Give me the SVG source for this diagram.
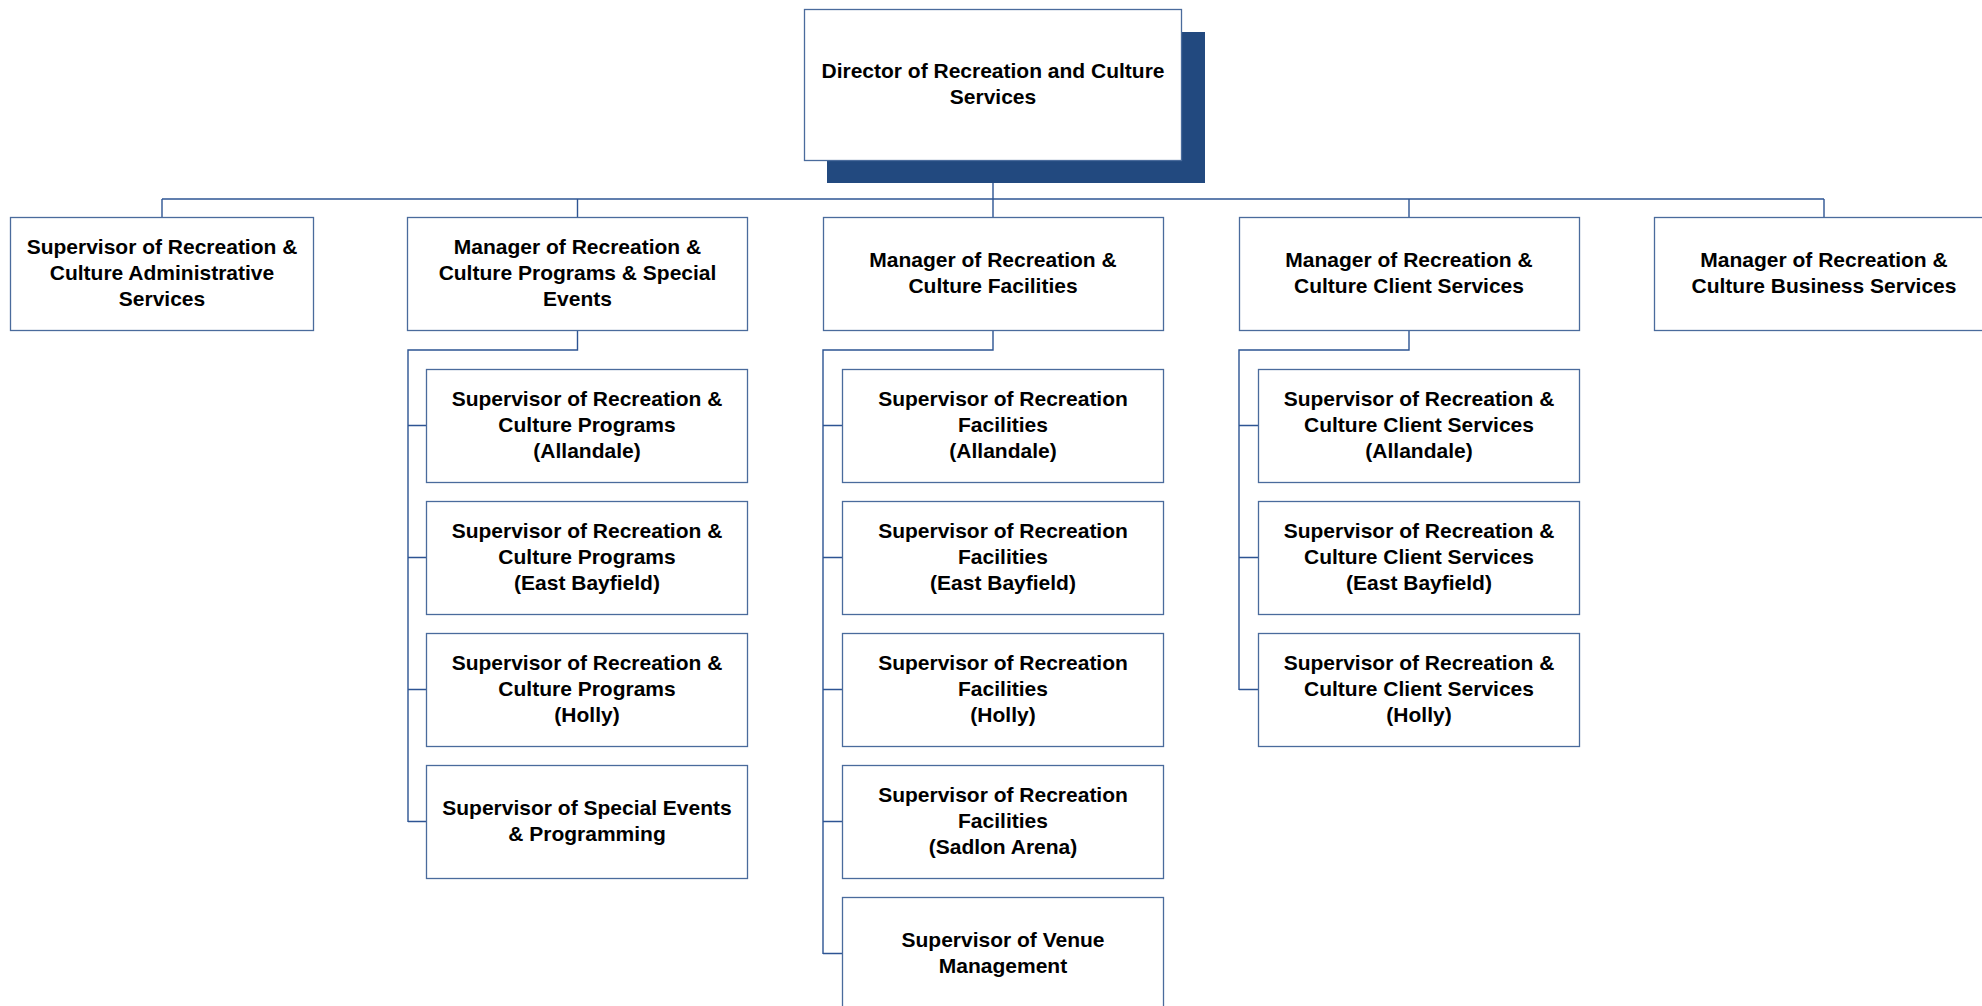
<svg xmlns="http://www.w3.org/2000/svg" width="1982" height="1006" viewBox="0 0 1982 1006">
  <style>
    .box { fill: #ffffff; stroke: #4a6b9c; stroke-width: 1.3; }
    .shadow { fill: #22497f; }
    .conn { fill: none; stroke: #2d5493; stroke-width: 1.4; }
    text { font-family: "Liberation Sans", Arial, sans-serif; font-weight: bold; font-size: 21px; fill: #000000; text-anchor: middle; }
  </style>

  <!-- reporting lines -->
  <g id="connectors">
    <!-- director to managers -->
    <path class="conn" d="M993 160 V199"/>
    <path class="conn" d="M162 199 H1824"/>
    <path class="conn" d="M162 199 V217"/>
    <path class="conn" d="M577.5 199 V217"/>
    <path class="conn" d="M993 199 V217"/>
    <path class="conn" d="M1409 199 V217"/>
    <path class="conn" d="M1824 199 V217"/>
    <!-- programs branch -->
    <path class="conn" d="M577.5 330 V350 H408 V822"/>
    <path class="conn" d="M408 425.5 H426 M408 557.5 H426 M408 689.5 H426 M408 821.5 H426"/>
    <!-- facilities branch -->
    <path class="conn" d="M993 330 V350 H823 V954"/>
    <path class="conn" d="M823 425.5 H842 M823 557.5 H842 M823 689.5 H842 M823 821.5 H842 M823 953.5 H842"/>
    <!-- client services branch -->
    <path class="conn" d="M1409 330 V350 H1239 V690"/>
    <path class="conn" d="M1239 425.5 H1258 M1239 557.5 H1258 M1239 689.5 H1258"/>
  </g>

  <!-- top -->
  <g id="director">
    <rect class="shadow" x="827" y="32" width="378" height="151"/>
    <rect class="box" x="804.5" y="9.5" width="377" height="151"/>
    <text x="993" y="78">Director of Recreation and Culture</text>
    <text x="993" y="104">Services</text>
  </g>

  <!-- managers row -->
  <g id="admin-services">
    <rect class="box" x="10.5" y="217.5" width="303" height="113"/>
    <text x="162" y="254">Supervisor of Recreation &amp;</text>
    <text x="162" y="280">Culture Administrative</text>
    <text x="162" y="306">Services</text>
  </g>
  <g id="programs-manager">
    <rect class="box" x="407.5" y="217.5" width="340" height="113"/>
    <text x="577.5" y="254">Manager of Recreation &amp;</text>
    <text x="577.5" y="280">Culture Programs &amp; Special</text>
    <text x="577.5" y="306">Events</text>
  </g>
  <g id="facilities-manager">
    <rect class="box" x="823.5" y="217.5" width="340" height="113"/>
    <text x="993" y="267">Manager of Recreation &amp;</text>
    <text x="993" y="293">Culture Facilities</text>
  </g>
  <g id="client-manager">
    <rect class="box" x="1239.5" y="217.5" width="340" height="113"/>
    <text x="1409" y="267">Manager of Recreation &amp;</text>
    <text x="1409" y="293">Culture Client Services</text>
  </g>
  <g id="business-manager">
    <rect class="box" x="1654.5" y="217.5" width="340" height="113"/>
    <text x="1824" y="267">Manager of Recreation &amp;</text>
    <text x="1824" y="293">Culture Business Services</text>
  </g>

  <!-- programs column -->
  <g id="programs-allandale">
    <rect class="box" x="426.5" y="369.5" width="321" height="113"/>
    <text x="587" y="406">Supervisor of Recreation &amp;</text>
    <text x="587" y="432">Culture Programs</text>
    <text x="587" y="458">(Allandale)</text>
  </g>
  <g id="programs-east-bayfield">
    <rect class="box" x="426.5" y="501.5" width="321" height="113"/>
    <text x="587" y="538">Supervisor of Recreation &amp;</text>
    <text x="587" y="564">Culture Programs</text>
    <text x="587" y="590">(East Bayfield)</text>
  </g>
  <g id="programs-holly">
    <rect class="box" x="426.5" y="633.5" width="321" height="113"/>
    <text x="587" y="670">Supervisor of Recreation &amp;</text>
    <text x="587" y="696">Culture Programs</text>
    <text x="587" y="722">(Holly)</text>
  </g>
  <g id="special-events">
    <rect class="box" x="426.5" y="765.5" width="321" height="113"/>
    <text x="587" y="815">Supervisor of Special Events</text>
    <text x="587" y="841">&amp; Programming</text>
  </g>

  <!-- facilities column -->
  <g id="facilities-allandale">
    <rect class="box" x="842.5" y="369.5" width="321" height="113"/>
    <text x="1003" y="406">Supervisor of Recreation</text>
    <text x="1003" y="432">Facilities</text>
    <text x="1003" y="458">(Allandale)</text>
  </g>
  <g id="facilities-east-bayfield">
    <rect class="box" x="842.5" y="501.5" width="321" height="113"/>
    <text x="1003" y="538">Supervisor of Recreation</text>
    <text x="1003" y="564">Facilities</text>
    <text x="1003" y="590">(East Bayfield)</text>
  </g>
  <g id="facilities-holly">
    <rect class="box" x="842.5" y="633.5" width="321" height="113"/>
    <text x="1003" y="670">Supervisor of Recreation</text>
    <text x="1003" y="696">Facilities</text>
    <text x="1003" y="722">(Holly)</text>
  </g>
  <g id="facilities-sadlon">
    <rect class="box" x="842.5" y="765.5" width="321" height="113"/>
    <text x="1003" y="802">Supervisor of Recreation</text>
    <text x="1003" y="828">Facilities</text>
    <text x="1003" y="854">(Sadlon Arena)</text>
  </g>
  <g id="venue-management">
    <rect class="box" x="842.5" y="897.5" width="321" height="113"/>
    <text x="1003" y="947">Supervisor of Venue</text>
    <text x="1003" y="973">Management</text>
  </g>

  <!-- client services column -->
  <g id="client-allandale">
    <rect class="box" x="1258.5" y="369.5" width="321" height="113"/>
    <text x="1419" y="406">Supervisor of Recreation &amp;</text>
    <text x="1419" y="432">Culture Client Services</text>
    <text x="1419" y="458">(Allandale)</text>
  </g>
  <g id="client-east-bayfield">
    <rect class="box" x="1258.5" y="501.5" width="321" height="113"/>
    <text x="1419" y="538">Supervisor of Recreation &amp;</text>
    <text x="1419" y="564">Culture Client Services</text>
    <text x="1419" y="590">(East Bayfield)</text>
  </g>
  <g id="client-holly">
    <rect class="box" x="1258.5" y="633.5" width="321" height="113"/>
    <text x="1419" y="670">Supervisor of Recreation &amp;</text>
    <text x="1419" y="696">Culture Client Services</text>
    <text x="1419" y="722">(Holly)</text>
  </g>
</svg>
